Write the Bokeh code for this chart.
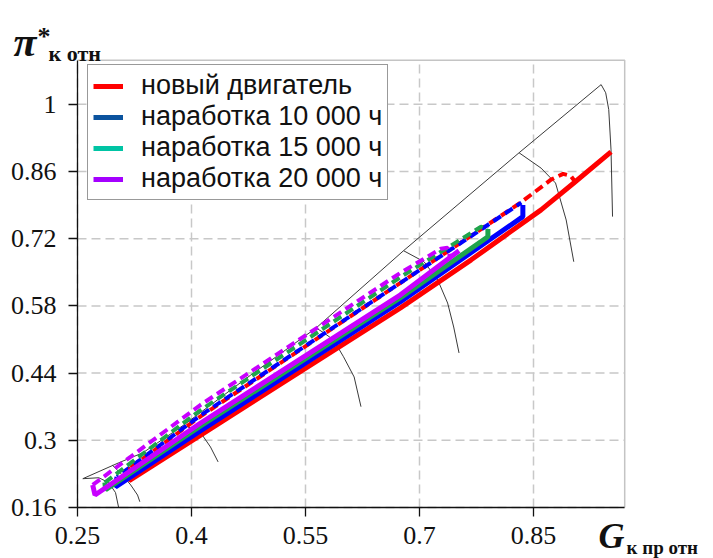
from bokeh.plotting import figure
from bokeh.models import FixedTicker, Range1d, Legend, LegendItem, Label
from bokeh.embed import file_html
from bokeh.resources import INLINE

# ---- plot limits and axis ticks --------------------------------------------
x_lo, x_hi = 0.25, 0.97
y_lo, y_hi = 0.16, 1.092
x_ticks = [0.25, 0.4, 0.55, 0.7, 0.85]
x_tick_labels = ["0.25", "0.4", "0.55", "0.7", "0.85"]
y_ticks = [0.16, 0.3, 0.44, 0.58, 0.72, 0.86, 1.0]
y_tick_labels = ["0.16", "0.3", "0.44", "0.58", "0.72", "0.86", "1"]

# ---- compressor map: surge line and corrected-speed lines ------------------
surge_x = [0.257, 0.304, 0.336, 0.390, 0.478, 0.564, 0.679, 0.831, 0.939]
surge_y = [0.220, 0.253, 0.274, 0.332, 0.436, 0.534, 0.695, 0.899, 1.041]

speed1_x = [0.257, 0.278, 0.291, 0.300, 0.304]
speed1_y = [0.220, 0.222, 0.212, 0.191, 0.161]
speed2_x = [0.296, 0.310, 0.320, 0.329, 0.332]
speed2_y = [0.248, 0.226, 0.207, 0.186, 0.172]
speed3_x = [0.390, 0.412, 0.425, 0.435]
speed3_y = [0.332, 0.316, 0.286, 0.255]
speed4_x = [0.564, 0.574, 0.587, 0.600, 0.614, 0.623]
speed4_y = [0.534, 0.524, 0.509, 0.474, 0.432, 0.370]
speed5_x = [0.679, 0.706, 0.724, 0.737, 0.745, 0.752]
speed5_y = [0.695, 0.672, 0.634, 0.586, 0.536, 0.482]
speed6_x = [0.831, 0.860, 0.879, 0.893, 0.903]
speed6_y = [0.899, 0.867, 0.836, 0.759, 0.672]
speed7_x = [0.939, 0.945, 0.949, 0.952, 0.954]
speed7_y = [1.041, 1.024, 0.989, 0.905, 0.766]

# ---- operating lines (solid) and their upper counterparts (dashed) ---------
new_solid_x = [0.320, 0.318, 0.412, 0.675, 0.768, 0.860, 0.903, 0.952]
new_solid_y = [0.243, 0.216, 0.311, 0.576, 0.676, 0.780, 0.836, 0.901]
new_dash_x = [0.320, 0.412, 0.675, 0.833, 0.873, 0.889, 0.899, 0.906]
new_dash_y = [0.243, 0.350, 0.628, 0.795, 0.843, 0.855, 0.851, 0.836]

h10_solid_x = [0.302, 0.300, 0.412, 0.675, 0.836, 0.836]
h10_solid_y = [0.224, 0.203, 0.320, 0.589, 0.766, 0.790]
h10_dash_x = [0.302, 0.412, 0.675, 0.834]
h10_dash_y = [0.224, 0.352, 0.628, 0.795]

h15_solid_x = [0.286, 0.287, 0.412, 0.675, 0.790, 0.790]
h15_solid_y = [0.212, 0.197, 0.330, 0.597, 0.724, 0.740]
h15_dash_x = [0.286, 0.412, 0.675, 0.768, 0.781, 0.790]
h15_dash_y = [0.212, 0.363, 0.640, 0.732, 0.745, 0.740]

h20_solid_x = [0.270, 0.273, 0.412, 0.675, 0.752]
h20_solid_y = [0.207, 0.186, 0.336, 0.603, 0.695]
h20_dash_x = [0.270, 0.412, 0.675, 0.728, 0.737, 0.740]
h20_dash_y = [0.207, 0.374, 0.649, 0.699, 0.701, 0.682]

series_names = ["новый двигатель", "наработка 10 000 ч",
                "наработка 15 000 ч", "наработка 20 000 ч"]
line_colors = ["#ff0000", "#0000ff", "#20a44c", "#c800ff"]
legend_colors = ["#ff0000", "#0b539e", "#00c4a4", "#a400ff"]

# ---- canvas geometry: the frame fills the canvas, axes sit at the plot limits
W, H = 713, 558
PAD_L, PAD_B = 77, 51          # px from canvas edge to the plot limits
PX_X, PX_Y = 760, 480          # px per data unit
x0 = x_lo - PAD_L / PX_X
y0 = y_lo - PAD_B / PX_Y

p = figure(width=W, height=H, output_backend="svg", toolbar_location=None,
           x_range=Range1d(x0, x0 + W / PX_X), y_range=Range1d(y0, y0 + H / PX_Y),
           min_border=0, min_border_left=0, min_border_right=0,
           min_border_top=0, min_border_bottom=0)
p.background_fill_color = "white"
p.border_fill_color = "white"
p.outline_line_color = None
p.xgrid.visible = False
p.ygrid.visible = False

# dashed grid inside the plot limits
grid_kw = dict(line_color="#c8c8c8", line_dash="9 5", line_width=1.5)
p.segment(x0=x_ticks, y0=[y_lo] * len(x_ticks), x1=x_ticks,
          y1=[y_hi] * len(x_ticks), **grid_kw)
p.segment(x0=[x_lo] * len(y_ticks), y0=y_ticks, x1=[x_hi] * len(y_ticks),
          y1=y_ticks, **grid_kw)
# light border on the top and right sides
p.line([x_lo, x_hi, x_hi], [y_hi, y_hi, y_lo], line_color="#c4c4c4",
       line_width=1.5)

# axes pinned to the plot limits
p.xaxis.fixed_location = y_lo
p.yaxis.fixed_location = x_lo
p.xaxis.bounds = (x_lo, x_hi)
p.yaxis.bounds = (y_lo, y_hi)
p.xaxis.ticker = FixedTicker(ticks=x_ticks)
p.yaxis.ticker = FixedTicker(ticks=y_ticks)
p.xaxis.major_label_overrides = dict(zip(x_ticks, x_tick_labels))
p.yaxis.major_label_overrides = dict(zip(y_ticks, y_tick_labels))
for ax in (p.xaxis, p.yaxis):
    ax.axis_line_color = "#111111"
    ax.axis_line_width = 1.3
    ax.major_tick_line_color = "#111111"
    ax.major_tick_line_width = 1.3
    ax.major_tick_out = 9
    ax.major_tick_in = 0
    ax.minor_tick_line_color = None
    ax.major_label_text_font = "Liberation Serif"
    ax.major_label_text_font_size = "26px"
    ax.major_label_text_color = "#111111"
p.yaxis.major_label_standoff = 12
p.xaxis.major_label_standoff = 10

# compressor map lines
map_color = "#3a3a3a"
p.line(surge_x, surge_y, line_color=map_color, line_width=1)
for sx, sy in [(speed1_x, speed1_y), (speed2_x, speed2_y), (speed3_x, speed3_y),
               (speed4_x, speed4_y), (speed5_x, speed5_y), (speed6_x, speed6_y),
               (speed7_x, speed7_y)]:
    p.line(sx, sy, line_color=map_color, line_width=1)

# dashed lines
dashed = [(new_dash_x, new_dash_y), (h10_dash_x, h10_dash_y),
          (h15_dash_x, h15_dash_y), (h20_dash_x, h20_dash_y)]
offsets = [0, 7, 0, 0]
for (dx, dy), c, off in zip(dashed, line_colors, offsets):
    p.line(dx, dy, line_color=c, line_width=4, line_dash="9 5",
           line_dash_offset=off)

# solid lines
solid = [(new_solid_x, new_solid_y), (h10_solid_x, h10_solid_y),
         (h15_solid_x, h15_solid_y), (h20_solid_x, h20_solid_y)]
for (sx, sy), c in zip(solid, line_colors):
    p.line(sx, sy, line_color=c, line_width=5)

# legend: single-point proxies (a one-point line draws nothing on the plot)
items = []
for name, c, (sx, sy) in zip(series_names, legend_colors, solid):
    r = p.line(sx[:1], sy[:1], line_color=c, line_width=5)
    items.append(LegendItem(label=name, renderers=[r]))
legend = Legend(items=items, location=(87, 358), padding=5,
                spacing=0, label_height=28, glyph_height=28, glyph_width=30,
                label_standoff=18, label_text_font="Liberation Sans",
                label_text_font_size="27px", label_text_color="#111111",
                border_line_color="#333333", border_line_width=1,
                background_fill_color="white", background_fill_alpha=1)
p.add_layout(legend)

# axis titles (screen px: x from the left edge, y up from the bottom edge)
def title_text(x, y, t, size, style="bold"):
    p.add_layout(Label(x=x, y=y, x_units="screen", y_units="screen", text=t,
                       text_font="Liberation Serif", text_font_size=size,
                       text_font_style=style, text_color="#111111",
                       text_baseline="alphabetic", text_align="left"))

title_text(13, H - 41, "π", "42px", "bold italic")
title_text(37, H - 36, "*", "26px", "bold")
title_text(48, H - 53, "к отн", "22px", "bold")
title_text(598, H - 535, "G", "36px", "bold italic")
title_text(626, H - 547, "к пр отн", "19px", "bold")

open("out.html", "w").write(file_html(p, INLINE))
